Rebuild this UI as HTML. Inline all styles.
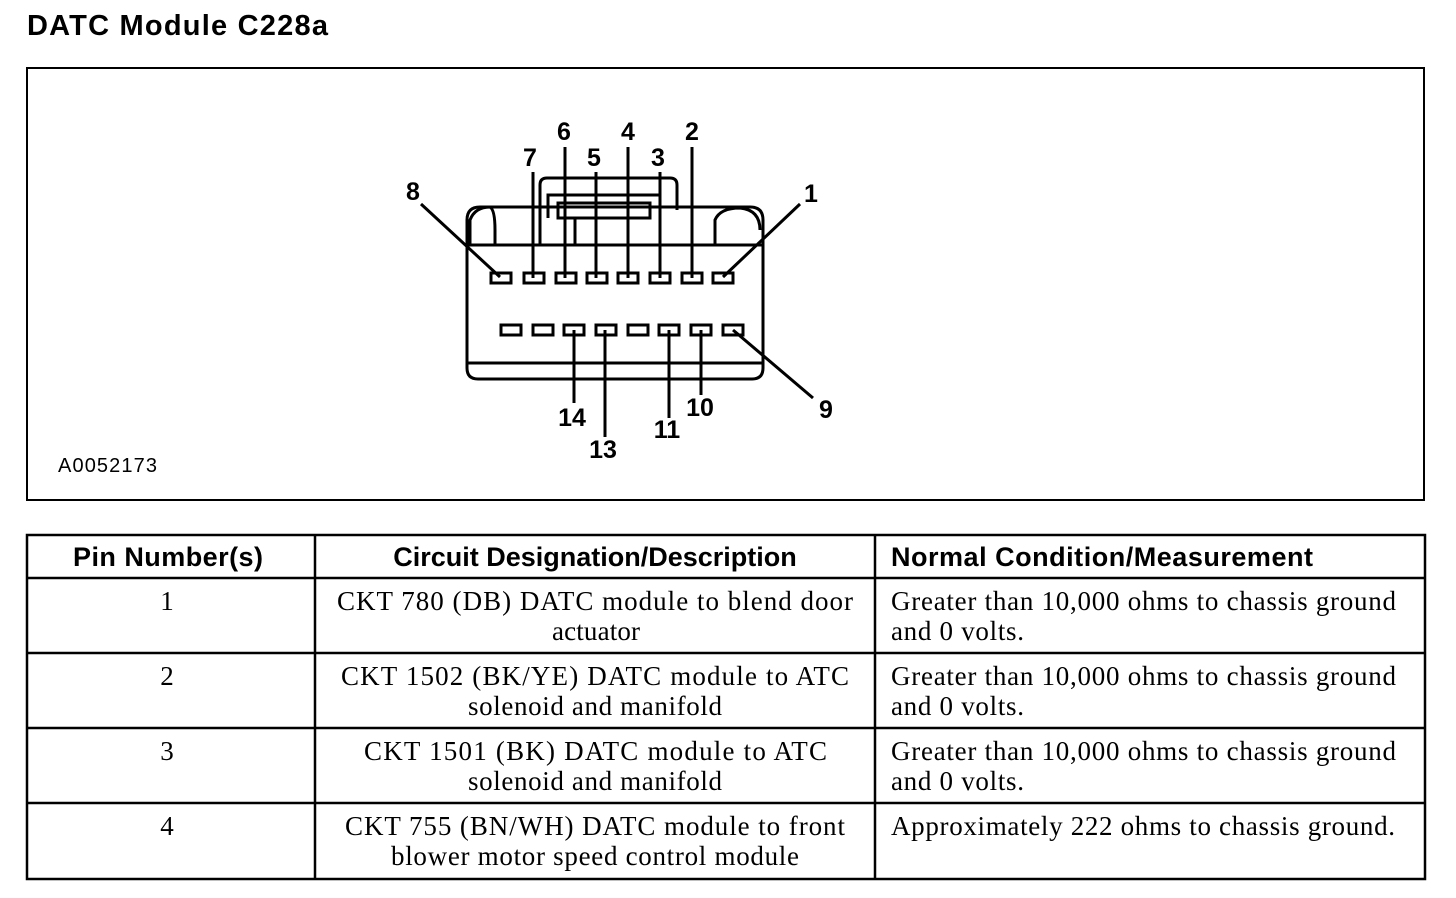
<!DOCTYPE html>
<html><head><style>
body{margin:0;background:#fff;width:1456px;height:898px;overflow:hidden}
svg{display:block}
.b{font-family:"Liberation Sans",sans-serif;font-weight:bold}
.s{font-family:"Liberation Serif",serif;font-size:27px}
</style></head><body>
<svg width="1456" height="898" viewBox="0 0 1456 898">
<text x="27" y="35" class="b" font-size="29" textLength="301">DATC Module C228a</text>
<rect x="27" y="68" width="1397" height="432" fill="none" stroke="#000" stroke-width="2"/>
<text x="58" y="472" font-family="Liberation Sans,sans-serif" font-size="20" textLength="99">A0052173</text>
<g fill="none" stroke="#000" stroke-width="3">
<path d="M467,220 Q467,207 480,207 L750,207 Q763,207 763,220 L763,368 Q763,379 752,379 L478,379 Q467,379 467,368 Z"/>
<line x1="467" y1="245" x2="763" y2="245"/>
<line x1="467" y1="363" x2="763" y2="363"/>
<path d="M470,245 V220 Q475,207 490,207 Q495,210 495,230 V245"/>
<path d="M715,245 V220 Q720,208 740,208 Q760,210 760,230"/>
<path d="M540,245 V185 Q540,178 547,178 L670,178 Q677,178 677,185 V210"/>
<path d="M548,218 V195 L660,195 V210"/>
<path d="M558,218 V203 L650,203 V218 Z"/>
<line x1="575" y1="218" x2="575" y2="245"/>
</g>
<g fill="none" stroke="#000" stroke-width="3">
<rect x="491" y="273" width="20" height="10"/><rect x="524" y="273" width="20" height="10"/>
<rect x="556" y="273" width="20" height="10"/><rect x="587" y="273" width="20" height="10"/>
<rect x="618" y="273" width="20" height="10"/><rect x="650" y="273" width="20" height="10"/>
<rect x="682" y="273" width="20" height="10"/><rect x="713" y="273" width="20" height="10"/>
<rect x="501" y="325" width="20" height="10"/><rect x="533" y="325" width="20" height="10"/>
<rect x="564" y="325" width="20" height="10"/><rect x="596" y="325" width="20" height="10"/>
<rect x="628" y="325" width="20" height="10"/><rect x="659" y="325" width="20" height="10"/>
<rect x="691" y="325" width="20" height="10"/><rect x="723" y="325" width="20" height="10"/>
<line x1="421" y1="204" x2="500" y2="277"/>
<line x1="533" y1="172" x2="533" y2="278"/>
<line x1="565" y1="147" x2="565" y2="278"/>
<line x1="596" y1="172" x2="596" y2="278"/>
<line x1="628" y1="147" x2="628" y2="278"/>
<line x1="660" y1="172" x2="660" y2="278"/>
<line x1="692" y1="147" x2="692" y2="278"/>
<line x1="800" y1="204" x2="723" y2="277"/>
<line x1="574" y1="330" x2="574" y2="403"/>
<line x1="605" y1="330" x2="605" y2="437"/>
<line x1="669" y1="330" x2="669" y2="418"/>
<line x1="701" y1="330" x2="701" y2="395"/>
<line x1="733" y1="330" x2="813" y2="398"/>
</g>
<g class="b" font-size="25" text-anchor="middle">
<text x="413" y="200">8</text><text x="530" y="166">7</text><text x="564" y="140">6</text>
<text x="594" y="166">5</text><text x="628" y="140">4</text><text x="658" y="166">3</text>
<text x="692" y="140">2</text><text x="811" y="202">1</text>
<text x="572" y="426">14</text><text x="603" y="458">13</text><text x="667" y="438">11</text>
<text x="700" y="416">10</text><text x="826" y="418">9</text>
</g>
<g stroke="#000" stroke-width="2.5" fill="none">
<rect x="27" y="535" width="1398" height="344"/>
<line x1="315" y1="535" x2="315" y2="879"/><line x1="875" y1="535" x2="875" y2="879"/>
<line x1="27" y1="578" x2="1425" y2="578"/><line x1="27" y1="653" x2="1425" y2="653"/>
<line x1="27" y1="728" x2="1425" y2="728"/><line x1="27" y1="803" x2="1425" y2="803"/>
</g>
<g class="b" font-size="27">
<text x="73" y="566" textLength="190">Pin Number(s)</text>
<text x="595" y="566" text-anchor="middle">Circuit Designation/Description</text>
<text x="891" y="566" textLength="422">Normal Condition/Measurement</text>
</g>
<g class="s">
<text x="167" y="610" text-anchor="middle">1</text>
<text x="337" y="610" textLength="516">CKT 780 (DB) DATC module to blend door</text>
<text x="552" y="640" textLength="88">actuator</text>
<text x="891" y="610" textLength="505">Greater than 10,000 ohms to chassis ground</text>
<text x="891" y="640" textLength="133">and 0 volts.</text>
<text x="167" y="685" text-anchor="middle">2</text>
<text x="341" y="685" textLength="508">CKT 1502 (BK/YE) DATC module to ATC</text>
<text x="468" y="715" textLength="254">solenoid and manifold</text>
<text x="891" y="685" textLength="505">Greater than 10,000 ohms to chassis ground</text>
<text x="891" y="715" textLength="133">and 0 volts.</text>
<text x="167" y="760" text-anchor="middle">3</text>
<text x="364" y="760" textLength="463">CKT 1501 (BK) DATC module to ATC</text>
<text x="468" y="790" textLength="254">solenoid and manifold</text>
<text x="891" y="760" textLength="505">Greater than 10,000 ohms to chassis ground</text>
<text x="891" y="790" textLength="133">and 0 volts.</text>
<text x="167" y="835" text-anchor="middle">4</text>
<text x="345" y="835" textLength="500">CKT 755 (BN/WH) DATC module to front</text>
<text x="391" y="865" textLength="408">blower motor speed control module</text>
<text x="891" y="835" textLength="504">Approximately 222 ohms to chassis ground.</text>
</g>
</svg>
</body></html>
